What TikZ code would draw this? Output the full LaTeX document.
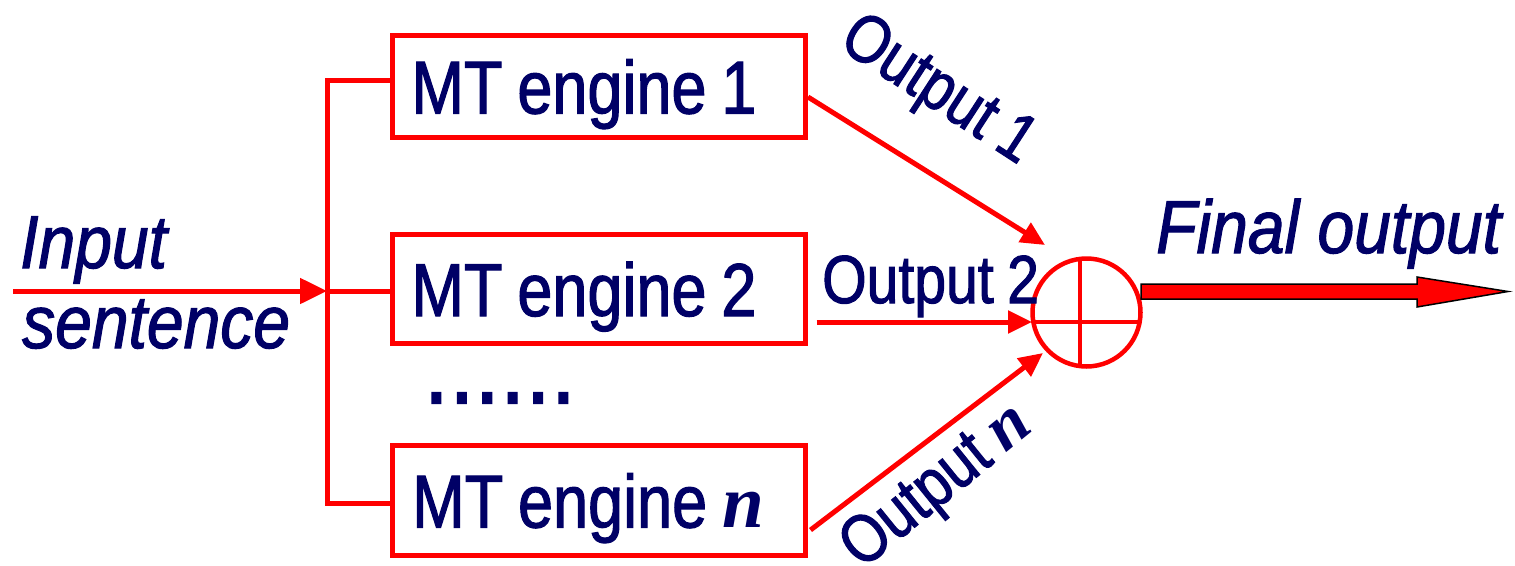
\documentclass[tikz,border=0pt]{standalone}
\usepackage{fontspec}
\setmainfont[FakeStretch=0.84, FakeBold=1.5, WordSpace=0.85]{Liberation Sans}
\newfontfamily\itfont[FakeStretch=0.88, FakeBold=1.5]{Liberation Sans}
\newfontfamily\nserif{Liberation Serif}
\usetikzlibrary{arrows.meta,calc}
\definecolor{navy}{RGB}{0,0,102}
\newcommand{\nn}{{\nserif\bfseries\itshape n}}
\begin{document}
\begin{tikzpicture}[x=1pt,y=-1pt,
  engine/.style={draw=red, line width=5pt, rectangle, minimum width=413pt,
    inner xsep=0pt, inner ysep=0pt,
    text height=54pt, text depth=0pt, font=\fontsize{75}{90}\selectfont, text=navy},
  lbl/.style={text=navy, inner sep=0pt, font=\fontsize{68}{82}\selectfont},
  ital/.style={text=navy, inner sep=0pt, font=\fontsize{75}{90}\selectfont\itfont\itshape},
  conn/.style={draw=red, line width=5pt},
  arr/.style={conn, -{Triangle[length=24pt,width=22pt]}},
]
\useasboundingbox (0,0) rectangle (1515,565);

% engines
\node[engine, minimum height=102pt] (e1) at (599,86.5) {MT engine 1\hspace*{30pt}};
\node[engine, minimum height=109pt] (e2) at (599,289) {MT engine 2\hspace*{30pt}};
\node[engine, minimum height=110pt] (en) at (599,500.5) {MT engine \nn\hspace*{22pt}};
\node[text=navy, inner sep=0pt, font=\fontsize{75}{90}\selectfont\bfseries] (dots) at (500,398)
  {.\kern7.9pt.\kern7.9pt.\kern7.9pt.\kern7.9pt.\kern7.9pt.};

% bus
\coordinate (b1) at (327,80);
\coordinate (b2) at (327,291);
\coordinate (bn) at (327,503);
\coordinate (in) at (13,291);
\draw[conn, line join=miter] (b1 -| e1.west) -- (b1) -- (bn) -- (bn -| en.west);
\draw[conn] (b2) -- (b2 -| e2.west);
\draw[conn, -{Triangle[length=27pt,width=25pt]}] (in) -- (b2);

% sum
\node[draw=red, line width=4.5pt, circle, minimum size=108pt, inner sep=0pt] (sum) at (1086.5,312.5) {};
\draw[red, line width=4pt] ($(sum.center)+(-53.2,9.5)$) -- ($(sum.center)+(53.2,9.5)$);
\draw[red, line width=4pt] ($(sum.center)+(-6.5,-53.6)$) -- ($(sum.center)+(-6.5,53.6)$);

% outputs
\coordinate (t1) at (1045,245);
\coordinate (t2) at (1032,322);
\coordinate (tn) at (1043,353);
\draw[arr] ([yshift=-10.5pt]e1.east) -- (t1);
\draw[arr] ([xshift=8.5pt,yshift=-33pt]e2.east) -- (t2);
\draw[arr] ([xshift=2.5pt,yshift=-29.5pt]en.east) -- (tn);

% final output block arrow
\coordinate (fa) at (1141,291.5);
\draw[black, line width=1.5pt, fill=red, line join=miter]
  ($(fa)+(0,-7.5)$) -- ($(fa)+(276,-7.5)$) -- ($(fa)+(276,-14.5)$) -- ($(fa)+(367,0)$)
  -- ($(fa)+(276,15.5)$) -- ($(fa)+(276,7.5)$) -- ($(fa)+(0,7.5)$) -- cycle;

% labels
\node[ital, anchor=base west] (inp) at (20,268) {Input};
\node[ital, anchor=base west] (sen) at (22,348) {sentence};
\node[ital, anchor=base west] (fin) at (1156,253) {Final output};
\node[lbl, anchor=base west] (lo2) at (822,303) {Output 2};
\node[lbl, rotate=-33] (lo1) at (937,92) {Output 1};
\node[lbl, rotate=39] (lon) at (938,487) {Output \nn};
\end{tikzpicture}
\end{document}
